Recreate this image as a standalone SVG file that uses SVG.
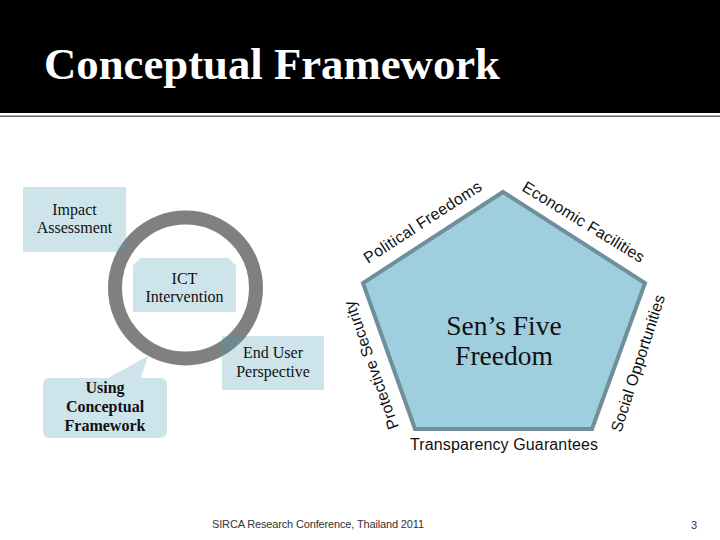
<svg xmlns="http://www.w3.org/2000/svg" width="720" height="540" viewBox="0 0 720 540">
<style>
.box{fill:#4b9ab4;fill-opacity:0.27}
.serif{font-family:"Liberation Serif","Times New Roman",serif;fill:#111}
.lbl{font-family:"Liberation Serif","Times New Roman",serif;font-size:16px;fill:#111;text-anchor:middle}
.side{font-family:"Liberation Sans",Arial,sans-serif;font-size:16px;fill:#111}
.foot{font-family:"Liberation Sans",Arial,sans-serif;font-size:11px;fill:#333}
</style>
<rect x="0" y="0" width="720" height="540" fill="#fff"/>
<g id="header">
<rect x="0" y="0" width="720" height="113" fill="#000"/>
<rect x="0" y="115.5" width="720" height="1.5" fill="#666"/>
<text x="44" y="79" font-family="'Liberation Serif','Times New Roman',serif" font-size="45" font-weight="bold" fill="#fff" textLength="456" lengthAdjust="spacingAndGlyphs">Conceptual Framework</text>
</g>
<g id="connectors"></g>
<g id="cycle">
<circle cx="185.5" cy="288" r="70.5" fill="none" stroke="#808080" stroke-width="14"/>
</g>
<g id="impact">
<rect class="box" x="23" y="187" width="103" height="65"/>
<text class="lbl" x="74.5" y="215">Impact</text>
<text class="lbl" x="74.5" y="233">Assessment</text>
</g>
<g id="ict">
<path class="box" d="M133,265.5 L140.5,258 L228.5,258 L236,265.5 L236,312 L133,312 Z"/>
<text class="lbl" x="184.5" y="284">ICT</text>
<text class="lbl" x="184.5" y="302">Intervention</text>
</g>
<g id="enduser">
<rect class="box" x="222" y="336" width="102" height="54"/>
<text class="lbl" x="273" y="358">End User</text>
<text class="lbl" x="273" y="376.5">Perspective</text>
</g>
<g id="using">
<path class="box" d="M50,378 H108 L148,356 L141,378 H160 Q167,378 167,385 V431 Q167,438 160,438 H50 Q43,438 43,431 V385 Q43,378 50,378 Z"/>
<text class="lbl" x="105" y="393" font-weight="bold">Using</text>
<text class="lbl" x="105" y="412" font-weight="bold">Conceptual</text>
<text class="lbl" x="105" y="431" font-weight="bold">Framework</text>
</g>
<g id="pentagon">
<polygon points="503,192 645,283 592,429 415,429 363,283" fill="#9fcfdf" stroke="#6f8f99" stroke-width="4" stroke-linejoin="miter"/>
<text class="serif" x="504" y="335" font-size="27.5" text-anchor="middle">Sen’s Five</text>
<text class="serif" x="504" y="365" font-size="27.5" text-anchor="middle">Freedom</text>
</g>
<g id="political">
<text class="side" transform="translate(368,264) rotate(-33)" textLength="137">Political Freedoms</text>
</g>
<g id="economic">
<text class="side" transform="translate(521,190) rotate(31.5)" textLength="140">Economic Facilities</text>
</g>
<g id="social">
<text class="side" transform="translate(621,433) rotate(-72)" textLength="143">Social Opportunities</text>
</g>
<g id="protective">
<text class="side" transform="translate(399,427) rotate(-109.5)" textLength="135">Protective Security</text>
</g>
<g id="transparency">
<text class="side" x="504" y="450" text-anchor="middle" textLength="188">Transparency Guarantees</text>
</g>
<g id="footer">
<text class="foot" x="212" y="528" textLength="212">SIRCA Research Conference, Thailand 2011</text>
<text class="foot" x="691" y="529">3</text>
</g>
</svg>
